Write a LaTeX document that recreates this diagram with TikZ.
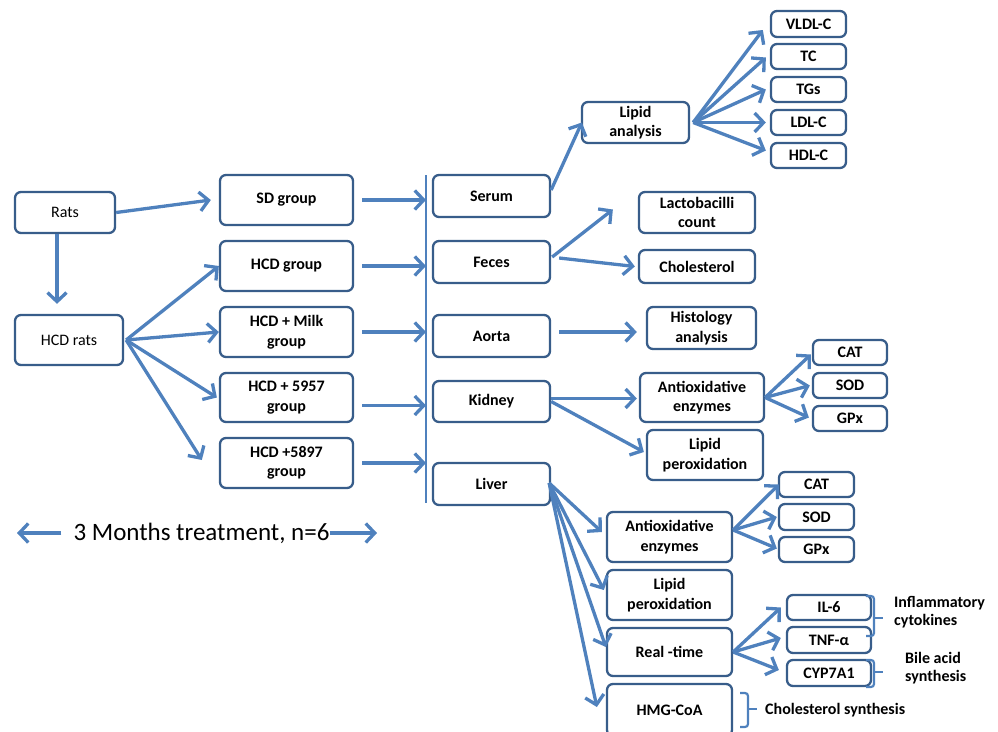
\documentclass[tikz,border=0pt]{standalone}
\usepackage{fontspec}
\setmainfont{Carlito}
\usetikzlibrary{arrows.meta,calc}
\definecolor{ablue}{RGB}{79,129,189}
\definecolor{bord}{RGB}{56,93,138}
\begin{document}
\begin{tikzpicture}[x=1pt,y=-1pt,
  box/.style={draw=bord, line width=2.3pt, rounded corners=6pt, inner sep=0pt, align=center,
    font=\bfseries\fontsize{16}{19.5}\selectfont, text=black},
  rbox/.style={box, font=\fontsize{16}{19.5}\selectfont},
  arr/.style={draw=ablue, line width=3.3pt, -{Straight Barb[length=9pt,width=19pt]}},
  brk/.style={draw=ablue, line width=2.2pt, rounded corners=3pt},
  lbl/.style={inner sep=0pt, align=left, font=\bfseries\fontsize{16}{18}\selectfont}]
\useasboundingbox (0,0) rectangle (998,731);

% left column
\node[rbox, minimum width=100pt, minimum height=41pt] (rats) at (65,212.5) {Rats};
\node[rbox, minimum width=108pt, minimum height=50pt] (hcdrats) at (69,340) {HCD rats};

% groups
\node[box, minimum width=133pt, minimum height=50pt] (sd) at (286.5,200) {SD group};
\node[box, minimum width=133pt, minimum height=50pt] (hcd) at (286.5,266) {HCD group};
\node[box, minimum width=133pt, minimum height=50pt] (milk) at (286.5,332) {HCD + Milk\\group};
\node[box, minimum width=133pt, minimum height=49pt] (g5957) at (286.5,397.5) {HCD + 5957\\group};
\node[box, minimum width=133pt, minimum height=50pt] (g5897) at (286.5,463) {HCD +5897\\group};

% organs
\node[box, minimum width=117pt, minimum height=42pt] (serum) at (491.5,196) {Serum};
\node[box, minimum width=117pt, minimum height=42pt] (feces) at (491.5,262) {Feces};
\node[box, minimum width=117pt, minimum height=42pt] (aorta) at (491.5,336) {Aorta};
\node[box, minimum width=117pt, minimum height=41pt] (kidney) at (491.5,401.5) {Kidney};
\node[box, minimum width=117pt, minimum height=42pt] (liver) at (491.5,484) {Liver};

% serum branch
\node[box, minimum width=107pt, minimum height=41pt] (lipid) at (635.5,122.5) {Lipid\\analysis};
\node[box, minimum width=75pt, minimum height=26pt] (vldl) at (808.5,24) {VLDL-C};
\node[box, minimum width=75pt, minimum height=25pt] (tc) at (808.5,56.5) {TC};
\node[box, minimum width=75pt, minimum height=25pt] (tgs) at (808.5,89.5) {TGs};
\node[box, minimum width=75pt, minimum height=25pt] (ldl) at (808.5,122.5) {LDL-C};
\node[box, minimum width=75pt, minimum height=25pt] (hdl) at (808.5,155.5) {HDL-C};

% feces branch
\node[box, minimum width=116pt, minimum height=41pt] (lacto) at (697,212.5) {Lactobacilli\\count};
\node[box, minimum width=116pt, minimum height=33pt] (chol) at (697,266.5) {Cholesterol};

% aorta branch
\node[box, minimum width=109pt, minimum height=42pt] (histo) at (701.5,328) {Histology\\analysis};

% kidney branch
\node[box, minimum width=124pt, minimum height=49pt] (kantiox) at (702,397.5) {Antioxidative\\enzymes};
\node[box, minimum width=116pt, minimum height=50pt] (kperox) at (705,455) {Lipid\\peroxidation};
\node[box, minimum width=74pt, minimum height=25pt] (kcat) at (850,352.5) {CAT};
\node[box, minimum width=74pt, minimum height=25pt] (ksod) at (850,385.5) {SOD};
\node[box, minimum width=74pt, minimum height=25pt] (kgpx) at (850,418.5) {GPx};

% liver branch
\node[box, minimum width=125pt, minimum height=50pt] (lantiox) at (669.5,537) {Antioxidative\\enzymes};
\node[box, minimum width=125pt, minimum height=50pt] (lperox) at (669.5,595) {Lipid\\peroxidation};
\node[box, minimum width=125pt, minimum height=48pt] (realtime) at (669.5,652) {Real -time};
\node[box, minimum width=125pt, minimum height=52pt] (hmg) at (669.5,710) {HMG-CoA};
\node[box, minimum width=75pt, minimum height=25pt] (lcat) at (816.5,484.5) {CAT};
\node[box, minimum width=75pt, minimum height=26pt] (lsod) at (816.5,517) {SOD};
\node[box, minimum width=75pt, minimum height=25pt] (lgpx) at (816.5,549.5) {GPx};
\node[box, minimum width=84pt, minimum height=25pt] (il6) at (829,607.5) {IL-6};
\node[box, minimum width=84pt, minimum height=26pt] (tnf) at (829,640) {TNF-α};
\node[box, minimum width=84pt, minimum height=26pt] (cyp) at (829,673) {CYP7A1};

% side labels
\node[lbl, anchor=west] (infl) at (894,612) {Inflammatory\\cytokines};
\node[lbl, anchor=west] (bile) at (905,668) {Bile acid\\synthesis};
\node[lbl, anchor=west] (cholsyn) at (765,710) {Cholesterol synthesis};

% brackets
\draw[brk] (866,596) -- (874,596) -- (874,636) -- (866,636);
\draw[draw=ablue, line width=2.2pt] (874,618) -- (883,618);
\draw[brk] (866,660) -- (874,660) -- (874,687) -- (866,687);
\draw[draw=ablue, line width=2.2pt] (874,672) -- (883,672);
\draw[brk] (740,693) -- (748,693) -- (748,727) -- (740,727);
\draw[draw=ablue, line width=2.2pt] (748,709) -- (757,709);

% treatment label
\node[inner sep=0pt, font=\fontsize{25}{29}\selectfont] (treat) at (201.5,533) {3 Months treatment, n=6};
\coordinate (tl) at (17,533);
\coordinate (tr) at (377,533);
\draw[arr] ($(treat.west)+(-12,0)$) -- (tl);
\draw[arr] (treat.east) -- (tr);

% vertical line
\coordinate (vtop) at (426,175);
\coordinate (vbot) at (426,503);
\draw[ablue, line width=1.3pt] (vtop) -- (vbot);

% left arrows
\draw[arr] (rats.east) -- ($(sd.west)+(-8,0)$);
\draw[arr] ($(rats.south)+(-8,0)$) -- ($(hcdrats.north)+(-12,-10)$);
\coordinate (hr) at ($(hcdrats.east)+(2,0)$);
\draw[arr] (hr) -- (hcd.west);
\draw[arr] (hr) -- (milk.west);
\draw[arr] (hr) -- ($(g5957.west)+(-2,0)$);
\draw[arr] (hr) -- ($(g5897.west)+(-17,-3)$);

% groups to line
\draw[arr] ($(sd.east)+(8,0)$) -- (sd.east -| vtop);
\draw[arr] ($(hcd.east)+(8,0)$) -- (hcd.east -| vtop);
\draw[arr] ($(milk.east)+(8,0)$) -- (milk.east -| vtop);
\draw[arr] ($(g5957.east)+(8,8)$) -- ($(g5957.east -| vtop)+(0,8)$);
\draw[arr] ($(g5897.east)+(8,0)$) -- (g5897.east -| vtop);

% serum
\draw[arr] ($(serum.east)+(0,-6)$) -- ($(lipid.west)+(1,0)$);
\coordinate (lo) at ($(lipid.east)+(3,0)$);
\draw[arr] (lo) -- ($(vldl.west)+(-7,6)$);
\draw[arr] (lo) -- ($(tc.west)+(-4,1)$);
\draw[arr] (lo) -- ($(tgs.west)+(-4,0)$);
\draw[arr] (lo) -- ($(ldl.west)+(-4,0)$);
\draw[arr] (lo) -- ($(hdl.west)+(-4,-5)$);

% feces
\draw[arr] ($(feces.east)+(1,-5)$) -- ($(lacto.west)+(-25,-3)$);
\draw[arr] ($(feces.east)+(8,-4)$) -- ($(chol.west)+(-3,0)$);

% aorta
\draw[arr] ($(aorta.east)+(8,-4)$) -- ($(histo.west)+(-9,4)$);

% kidney
\draw[arr] ($(kidney.east)+(0,-3)$) -- ($(kantiox.west)+(-2,1)$);
\draw[arr] (kidney.east) -- ($(kperox.west)+(-2,-3)$);
\coordinate (ko) at (kantiox.east);
\draw[arr] (ko) -- ($(kcat.west)+(-1,2)$);
\draw[arr] (ko) -- ($(ksod.west)+(-2,0)$);
\draw[arr] (ko) -- ($(kgpx.west)+(-3,-1)$);

% liver
\coordinate (lv) at ($(liver.east)+(-2,-1)$);
\draw[arr] (lv) -- ($(lantiox.west)+(-4,-5)$);
\draw[arr] (lv) -- ($(lperox.west)+(-2,-5)$);
\draw[arr] (lv) -- ($(realtime.west)+(0,-5)$);
\draw[arr] (lv) -- ($(hmg.west)+(-9,-3)$);
\coordinate (la) at ($(lantiox.east)+(0,-7)$);
\draw[arr] (la) -- ($(lcat.west)+(1,0)$);
\draw[arr] (la) -- ($(lsod.west)+(-1,0)$);
\draw[arr] (la) -- ($(lgpx.west)+(-1,-1)$);
\coordinate (rt) at (realtime.east);
\draw[arr] (rt) -- ($(il6.west)+(-5,0)$);
\draw[arr] (rt) -- ($(tnf.west)+(-5,-2)$);
\draw[arr] (rt) -- ($(cyp.west)+(-7,-3)$);
\end{tikzpicture}
\end{document}
